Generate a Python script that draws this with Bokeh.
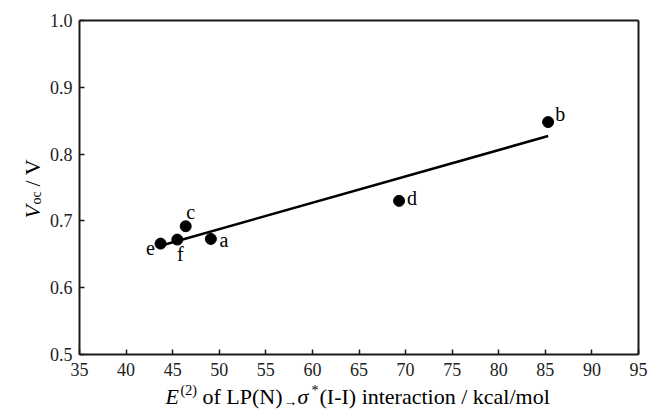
import numpy as np
from bokeh.plotting import figure
from bokeh.models import (ColumnDataSource, Label, FixedTicker, NumeralTickFormatter,
                          Range1d, LinearAxis)
from bokeh.core.properties import value
from bokeh.embed import file_html
from bokeh.resources import INLINE

# ---- data ----
point_labels = ["a", "b", "c", "d", "e", "f"]
e2_kcal = [49.1, 85.3, 46.4, 69.3, 43.7, 45.5]
voc_v = [0.673, 0.848, 0.692, 0.730, 0.666, 0.672]
x_ticks = [35, 40, 45, 50, 55, 60, 65, 70, 75, 80, 85, 90, 95]
y_ticks = [0.5, 0.6, 0.7, 0.8, 0.9, 1.0]

FONT = "Liberation Serif"
INK = "#1a1a1a"

# canvas and plot-box geometry (pixels)
W, H = 648, 410
BL, BR, BT, BB = 79, 638, 20, 354
X0, X1, Y0, Y1 = 35, 95, 0.5, 1.0
ppx = (X1 - X0) / (BR - BL)
ppy = (Y1 - Y0) / (BB - BT)

# the frame spans the whole canvas; the box is drawn with fixed-location axes
p = figure(width=W, height=H, output_backend="svg", toolbar_location=None,
           x_range=Range1d(X0 - BL * ppx, X1 + (W - BR) * ppx),
           y_range=Range1d(Y0 - (H - BB) * ppy, Y1 + BT * ppy),
           x_axis_type=None, y_axis_type=None, min_border=0)
p.min_border_left = p.min_border_right = p.min_border_top = p.min_border_bottom = 0
p.background_fill_color = "white"
p.border_fill_color = "white"
p.outline_line_color = None
p.grid.visible = False


def style_axis(ax, labelled):
    ax.axis_line_color = INK
    ax.axis_line_width = 2
    ax.minor_tick_line_color = None
    ax.axis_label = None
    if labelled:
        ax.major_tick_line_color = INK
        ax.major_tick_line_width = 1.5
        ax.major_tick_in = 5
        ax.major_tick_out = 0
        ax.major_label_text_font = FONT
        ax.major_label_text_font_size = "18px"
        ax.major_label_text_color = "#222222"
    else:
        ax.major_tick_line_color = None
        ax.major_label_text_color = None


xax = LinearAxis(fixed_location=Y0, bounds=(X0, X1), ticker=FixedTicker(ticks=x_ticks))
style_axis(xax, True)
xax.major_label_standoff = 8
p.add_layout(xax, "below")

yax = LinearAxis(fixed_location=X0, bounds=(Y0, Y1), ticker=FixedTicker(ticks=y_ticks),
                 formatter=NumeralTickFormatter(format="0.0"))
style_axis(yax, True)
yax.major_label_standoff = 7
p.add_layout(yax, "left")

tax = LinearAxis(fixed_location=Y1, bounds=(X0, X1), ticker=FixedTicker(ticks=[]))
style_axis(tax, False)
p.add_layout(tax, "above")

rax = LinearAxis(fixed_location=X1, bounds=(Y0, Y1), ticker=FixedTicker(ticks=[]))
style_axis(rax, False)
p.add_layout(rax, "right")

# regression line from the data
coef = np.polyfit(e2_kcal, voc_v, 1)
fx = np.array([min(e2_kcal), max(e2_kcal)])
fy = np.polyval(coef, fx)
p.line(fx, fy, line_color="black", line_width=2.5)

# points and their letters
offsets = {"a": (13, 1), "b": (12, -8), "c": (5, -14), "d": (13, -3), "e": (-10, 4), "f": (3, 14)}
src = ColumnDataSource(dict(x=e2_kcal, y=voc_v, t=point_labels,
                            dx=[offsets[k][0] for k in point_labels],
                            dy=[offsets[k][1] for k in point_labels]))
p.scatter("x", "y", source=src, size=11, fill_color="black", line_color="black")
p.text("x", "y", text="t", source=src, x_offset="dx", y_offset="dy",
       text_font=value(FONT), text_font_size="20px", text_color="black",
       text_align="center", text_baseline="middle")


def put(txt, px, py, size, italic=False, angle=0.0):
    # px, py: canvas pixels from top-left; frame == canvas here
    p.add_layout(Label(x=px, y=H - py, x_units="screen", y_units="screen",
                       text=txt, text_font=FONT, text_font_size=f"{size}px",
                       text_font_style="italic" if italic else "normal",
                       text_color="black", text_align="left",
                       text_baseline="alphabetic", angle=angle))


# x-axis title: E^(2) of LP(N) ->(sub) sigma^* (I-I) interaction / kcal/mol
put("E", 165, 396, 22, italic=True)
put("(2)", 180, 390, 14)
put("of LP(N)", 202, 396, 22)
put("\u2192", 283, 401, 14)
put("\u03c3", 297, 396, 22, italic=True)
put("*", 311, 390, 14)
put("(I-I) interaction / kcal/mol", 319, 396, 22)

# y-axis title: V_oc / V (rotated)
ang = np.pi / 2
put("V", 32, 218, 22, italic=True, angle=ang)
put("oc", 36, 204, 14, angle=ang)
put("/ V", 32, 186, 22, angle=ang)

open("out.html", "w").write(file_html(p, INLINE))
